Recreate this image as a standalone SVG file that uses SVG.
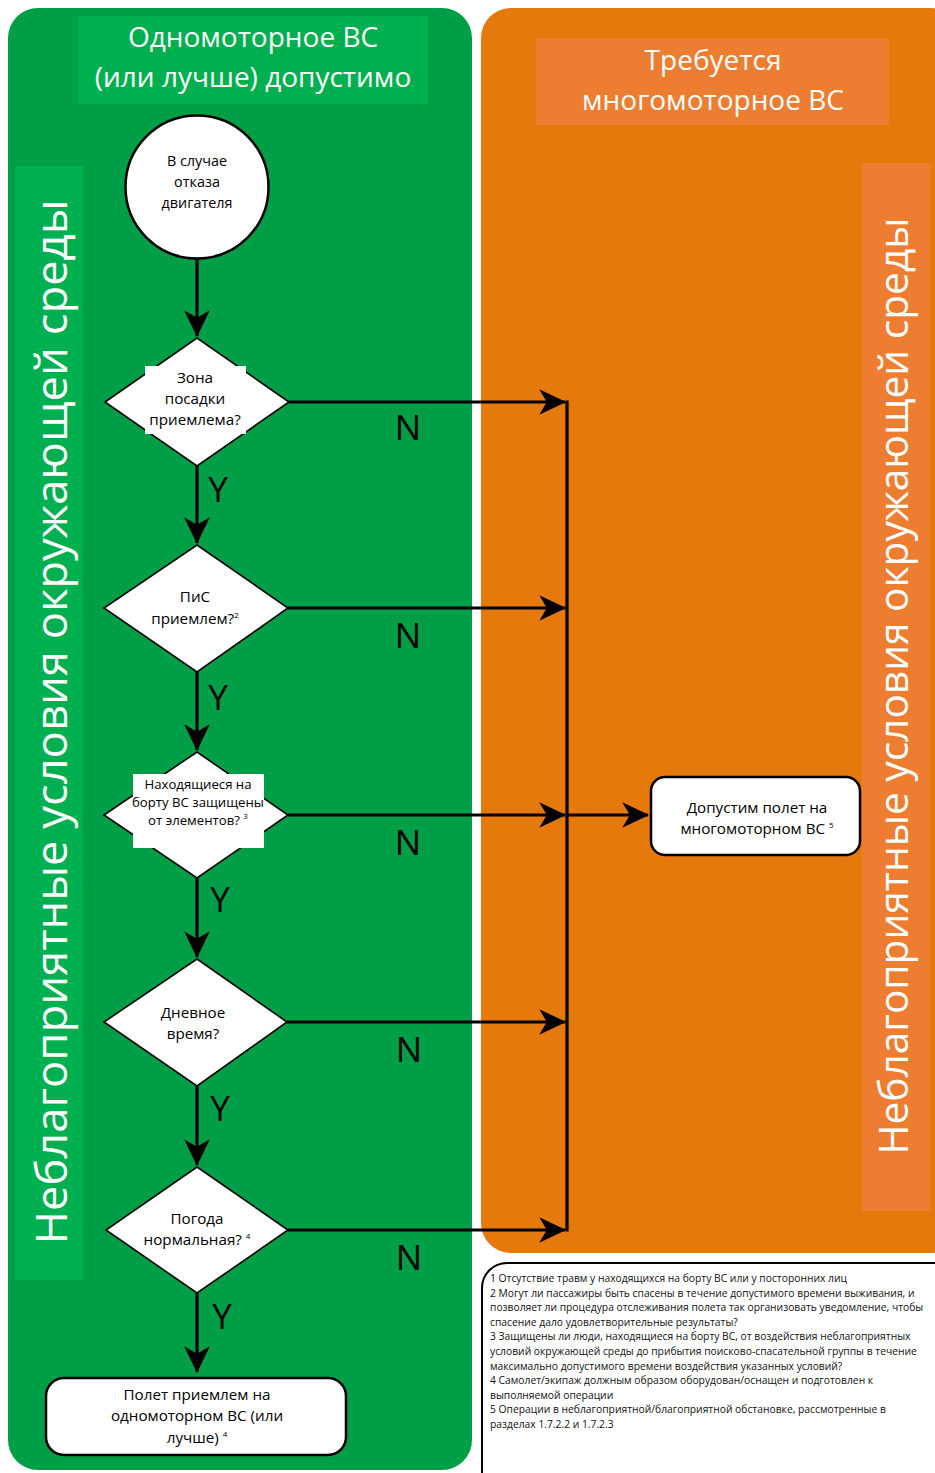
<svg xmlns="http://www.w3.org/2000/svg" width="935" height="1473" viewBox="0 0 935 1473">
<style>
text{font-family:"Open Sans","Noto Sans","DejaVu Sans",sans-serif;fill:#000}
.hdr{fill:#fff;font-size:28px;text-anchor:middle}
.vert{fill:#fff;text-anchor:middle}
.nt{font-size:15.2px;text-anchor:middle}
.sm{font-size:13.2px;text-anchor:middle}
.cir{font-size:14.4px;text-anchor:middle}
.yn{font-size:35px;fill:#000;text-anchor:middle}
.fn{font-size:10.3px;fill:#111}
.sup{font-size:8px}
.dia{fill:#fff;stroke:#000;stroke-width:1.6}
.box{fill:#fff;stroke:#000;stroke-width:2.5}
.ln{fill:none;stroke:#000;stroke-width:3.2}
</style>
<defs>
<marker id="ah" markerUnits="userSpaceOnUse" markerWidth="30" markerHeight="30" viewBox="-26 -13 28 26" refX="0" refY="0" orient="auto" overflow="visible">
<path d="M1,0 L-24,-12 L-17,0 L-24,12 Z" fill="#000"/>
</marker>
</defs>
<rect width="935" height="1473" fill="#fff"/>
<g id="panel-green">
<rect x="8" y="8" width="464" height="1462" rx="30" fill="#009E47"/>
<rect x="78" y="16" width="350" height="88" fill="#00B050"/>
<text class="hdr" x="253" y="47">Одномоторное ВС</text>
<text class="hdr" x="253" y="87">(или лучше) допустимо</text>
<rect x="15" y="166" width="68" height="1114" fill="#00B050"/>
<text class="vert" font-size="44" transform="translate(67,722) rotate(-90)" textLength="1045" lengthAdjust="spacingAndGlyphs">Неблагоприятные условия окружающей среды</text>
</g>
<g id="panel-orange">
<rect x="481" y="8" width="480" height="1245" rx="30" fill="#E6790C"/>
<rect x="536" y="38" width="353" height="87" fill="#ED7D31"/>
<text class="hdr" x="713" y="70">Требуется</text>
<text class="hdr" x="713" y="110">многомоторное ВС</text>
<rect x="862" y="163" width="68" height="1048" fill="#ED7D31"/>
<text class="vert" font-size="40" transform="translate(908,686) rotate(-90)" textLength="937" lengthAdjust="spacingAndGlyphs">Неблагоприятные условия окружающей среды</text>
</g>
<g id="connectors">
<line class="ln" x1="197" y1="258" x2="197" y2="336" marker-end="url(#ah)"/>
<line class="ln" x1="197" y1="466" x2="197" y2="543" marker-end="url(#ah)"/>
<line class="ln" x1="197" y1="672" x2="197" y2="750" marker-end="url(#ah)"/>
<line class="ln" x1="197" y1="878" x2="197" y2="957" marker-end="url(#ah)"/>
<line class="ln" x1="197" y1="1086" x2="197" y2="1165" marker-end="url(#ah)"/>
<line class="ln" x1="197" y1="1293" x2="197" y2="1372" marker-end="url(#ah)"/>
<line class="ln" x1="289" y1="402" x2="565" y2="402" marker-end="url(#ah)"/>
<line class="ln" x1="288" y1="608" x2="565" y2="608" marker-end="url(#ah)"/>
<line class="ln" x1="288" y1="815" x2="565" y2="815" marker-end="url(#ah)"/>
<line class="ln" x1="287" y1="1022" x2="565" y2="1022" marker-end="url(#ah)"/>
<line class="ln" x1="288" y1="1230" x2="565" y2="1230" marker-end="url(#ah)"/>
<line class="ln" x1="567" y1="400.4" x2="567" y2="1231.6"/>
<line class="ln" x1="567" y1="815" x2="648" y2="815" marker-end="url(#ah)"/>
<text class="yn" x="218" y="502">Y</text>
<text class="yn" x="218" y="710">Y</text>
<text class="yn" x="220" y="912">Y</text>
<text class="yn" x="220" y="1121">Y</text>
<text class="yn" x="222" y="1329">Y</text>
<text class="yn" x="408" y="440">N</text>
<text class="yn" x="408" y="648">N</text>
<text class="yn" x="408" y="855">N</text>
<text class="yn" x="409" y="1062">N</text>
<text class="yn" x="409" y="1270">N</text>
</g>
<g id="start">
<circle cx="197" cy="187" r="71.5" fill="#fff" stroke="#000" stroke-width="2.5"/>
<text class="cir" x="197" y="166">В случае</text>
<text class="cir" x="197" y="187">отказа</text>
<text class="cir" x="197" y="208">двигателя</text>
</g>
<g id="d1">
<polygon class="dia" points="197,338 289,402 197,466 105,402"/>
<rect x="145" y="366" width="101" height="68" fill="#fff"/>
<text class="nt" x="195" y="383">Зона</text>
<text class="nt" x="195" y="404">посадки</text>
<text class="nt" x="195" y="425">приемлема?</text>
</g>
<g id="d2">
<polygon class="dia" points="197,545 288,608 197,672 104,608"/>
<text class="nt" x="195" y="602">ПиС</text>
<text class="nt" x="195" y="624">приемлем?<tspan class="sup" dy="-6">2</tspan></text>
</g>
<g id="d3">
<polygon class="dia" points="197,752 288,815 197,878 104,815"/>
<rect x="133" y="774" width="131" height="74" fill="#fff"/>
<text class="sm" x="198" y="789">Находящиеся на</text>
<text class="sm" x="198" y="807">борту ВС защищены</text>
<text class="sm" x="198" y="825">от элементов? <tspan class="sup" dy="-6">3</tspan></text>
</g>
<g id="d4">
<polygon class="dia" points="197,959 287,1022 197,1086 104,1022"/>
<text class="nt" x="193" y="1018">Дневное</text>
<text class="nt" x="193" y="1039">время?</text>
</g>
<g id="d5">
<polygon class="dia" points="197,1167 288,1230 197,1293 106,1230"/>
<text class="nt" x="197" y="1224">Погода</text>
<text class="nt" x="197" y="1245">нормальная? <tspan class="sup" dy="-6">4</tspan></text>
</g>
<g id="end-single">
<rect class="box" x="46" y="1378" width="300" height="77" rx="18"/>
<text class="nt" x="197" y="1400">Полет приемлем на</text>
<text class="nt" x="197" y="1421">одномоторном ВС (или</text>
<text class="nt" x="197" y="1443">лучше) <tspan class="sup" dy="-6">4</tspan></text>
</g>
<g id="end-multi">
<rect class="box" x="651" y="777" width="209" height="78" rx="14"/>
<text class="nt" x="757" y="813">Допустим полет на</text>
<text class="nt" x="757" y="834">многомоторном ВС <tspan class="sup" dy="-6">5</tspan></text>
</g>
<g id="footnotes">
<rect x="482" y="1263" width="480" height="240" rx="25" fill="#fff" stroke="#000" stroke-width="2"/>
<text class="fn" x="490" y="1282">1 Отсутствие травм у находящихся на борту ВС или у посторонних лиц</text>
<text class="fn" x="490" y="1296.6">2 Могут ли пассажиры быть спасены в течение допустимого времени выживания, и</text>
<text class="fn" x="490" y="1311.2">позволяет ли процедура отслеживания полета так организовать уведомление, чтобы</text>
<text class="fn" x="490" y="1325.8">спасение дало удовлетворительные результаты?</text>
<text class="fn" x="490" y="1340.4">3 Защищены ли люди, находящиеся на борту ВС, от воздействия неблагоприятных</text>
<text class="fn" x="490" y="1355">условий окружающей среды до прибытия поисково-спасательной группы в течение</text>
<text class="fn" x="490" y="1369.6">максимально допустимого времени воздействия указанных условий?</text>
<text class="fn" x="490" y="1384.2">4 Самолет/экипаж должным образом оборудован/оснащен и подготовлен к</text>
<text class="fn" x="490" y="1398.8">выполняемой операции</text>
<text class="fn" x="490" y="1413.4">5 Операции в неблагоприятной/благоприятной обстановке, рассмотренные в</text>
<text class="fn" x="490" y="1428">разделах 1.7.2.2 и 1.7.2.3</text>
</g>
</svg>
